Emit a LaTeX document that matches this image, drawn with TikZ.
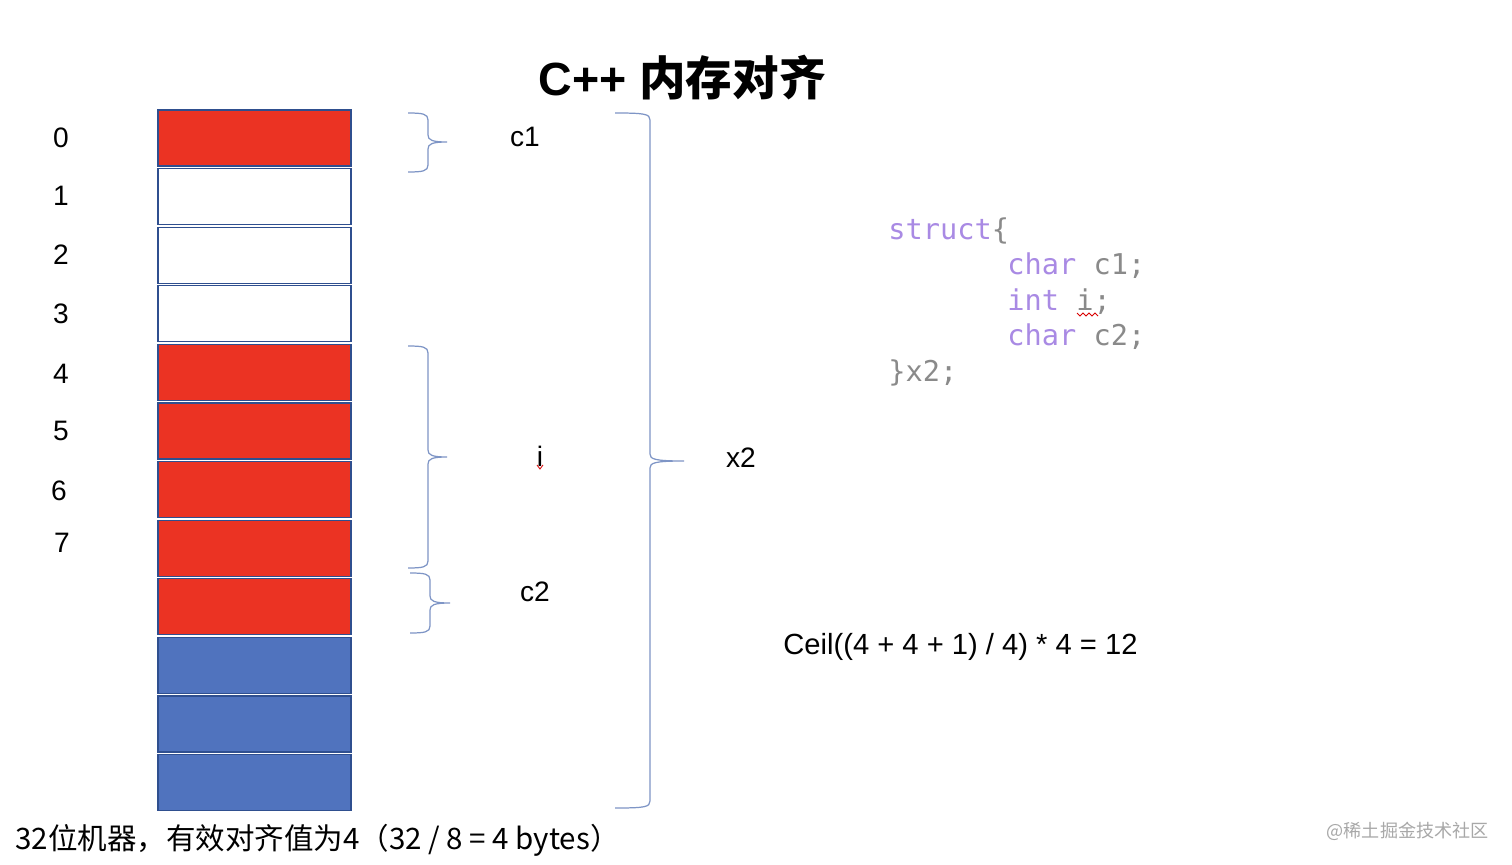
\documentclass[tikz,border=0pt]{standalone}
\usepackage{fontspec}
\setmainfont{Liberation Sans}
\newfontfamily\cjk{Noto Sans CJK SC}
\newfontfamily\codefont{DejaVu Sans Mono}
\usepackage{tikz}
\usetikzlibrary{calc}
\usetikzlibrary{positioning}

\definecolor{memred}{HTML}{EB3323}
\definecolor{memblue}{HTML}{5073BE}
\definecolor{cellline}{HTML}{2F4F8F}
\definecolor{bracecol}{HTML}{7E95C6}
\definecolor{keypurple}{HTML}{A98AE4}
\definecolor{codegray}{HTML}{8A8A8A}
\definecolor{markgray}{HTML}{A8A8A8}

\tikzset{cell/.style={draw=cellline,line width=0.7pt,minimum width=3.86cm,minimum height=1.12cm,inner sep=0pt}}
\tikzset{idx/.style={inner sep=0pt,font=\fontsize{16}{19}\selectfont}}
\tikzset{lbl/.style={inner sep=0pt,font=\fontsize{16}{19}\selectfont}}
\tikzset{code/.style={inner sep=0pt,anchor=base west,font=\codefont\fontsize{16.3}{19}\selectfont,text=codegray}}
\tikzset{squiggle/.style={draw=red!85!black,line width=0.5pt}}

% brace: left end, spine, tip, top, middle, bottom
\newcommand{\membrace}[6]{%
  \draw[bracecol,line width=0.7pt] (#1,#4) .. controls (#2-5,#4) and (#2,#4+1) .. (#2,#4+7)
    -- (#2,#5-7) .. controls (#2,#5-2) and (#2+4,#5) .. (#3,#5)
    .. controls (#2+4,#5) and (#2,#5+2) .. (#2,#5+7)
    -- (#2,#6-7) .. controls (#2,#6-1) and (#2-5,#6) .. (#1,#6);}

\begin{document}
\begin{tikzpicture}[x=0.02cm,y=-0.02cm]
\useasboundingbox[fill=white] (0,0) rectangle (1512,865);

\node[font=\bfseries\fontsize{26.5}{30}\selectfont,inner sep=0pt] (title) at (682,78) {C++ {\cjk 内存对齐}};

% memory cells
\foreach \i/\c in {0/memred,1/white,2/white,3/white,4/memred,5/memred,6/memred,7/memred,8/memred,9/memblue,10/memblue,11/memblue}
  {
  \node[cell,fill=\c] (b\i) at (254.5,{138+58.6*\i}) {};
  }

% offsets
\foreach \i/\x/\y in {0/61/138,1/61/196,2/61/255,3/61/314,4/61/374,5/61/431,6/59/491,7/62/543}
  {
  \node[idx] (n\i) at (\x,\y) {\i};
  }

\membrace{408}{428}{447}{113}{142}{172}
\membrace{408}{428}{447}{346}{457}{568}
\membrace{410}{430}{450}{573}{603}{633}
\membrace{615}{650}{684}{113}{461}{808}

\node[lbl] (c1) at (525,137) {c1};
\node[lbl] (i) at (540,456) {i};
\node[lbl] (c2) at (535,592) {c2};
\node[lbl] (x2) at (741,458) {x2};
\draw[squiggle] (537,465) -- (540,469) -- (543,465);

% struct source
\node[code] (s1) at (888,239) {\textcolor{keypurple}{struct}\{};
\node[code] (s2) at (1007,274.5) {\textcolor{keypurple}{char} c1;};
\node[code] (s3) at (1007,310) {\textcolor{keypurple}{int} i;};
\node[code] (s4) at (1007,345.5) {\textcolor{keypurple}{char} c2;};
\node[code] (s5) at (888,381) {\}x2;};
\draw[squiggle] (1077,313) -- (1080,316) -- (1083,313) -- (1086,316) -- (1089,313) -- (1092,316) -- (1095,313) -- (1098,316);

\node[lbl,anchor=west,font=\fontsize{16.6}{19}\selectfont] (ceil) at (783,647) {Ceil((4 + 4 + 1) / 4) * 4 = 12};

\node[inner sep=0pt,anchor=west,font=\cjk\fontsize{16.8}{19}\selectfont] (note) at (15,840) {32位机器，有效对齐值为4（32 / 8 = 4 bytes）};

\node[inner sep=0pt,anchor=east,text=markgray,font=\cjk\fontsize{10.3}{12}\selectfont] (mark) at (1489,831) {@稀土掘金技术社区};

\end{tikzpicture}
\end{document}
